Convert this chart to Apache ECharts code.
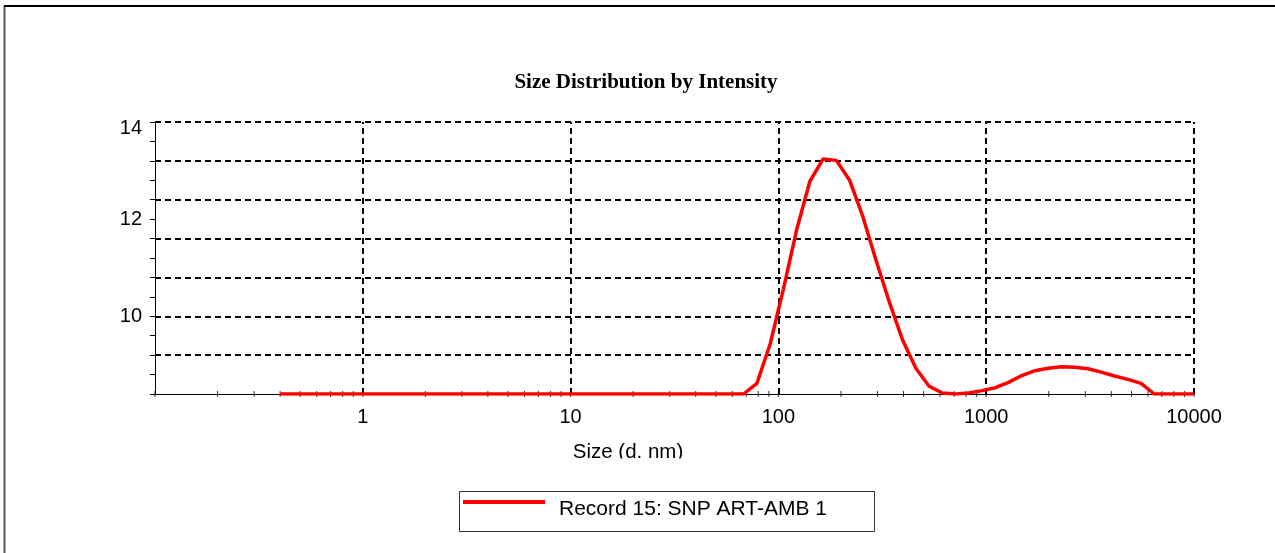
<!DOCTYPE html>
<html>
<head>
<meta charset="utf-8">
<script src="https://cdn.jsdelivr.net/npm/echarts@6/dist/echarts.min.js"></script>
<style>
html,body{margin:0;padding:0;background:#fff;}
#chart{width:1275px;height:553px;}
</style>
</head>
<body>
<div id="chart"></div>
<script>
// Size classes (d. nm)
const sizes = [0.4, 0.4632, 0.5365, 0.6213, 0.7195, 0.8332, 0.9649, 1.117, 1.294, 1.499,
  1.736, 2.01, 2.328, 2.696, 3.122, 3.615, 4.187, 4.849, 5.615, 6.503,
  7.531, 8.721, 10.1, 11.7, 13.54, 15.69, 18.17, 21.04, 24.36, 28.21,
  32.67, 37.84, 43.82, 50.75, 58.77, 68.06, 78.82, 91.28, 105.7, 122.4,
  141.8, 164.2, 190.1, 220.2, 255, 295.3, 342, 396.1, 458.7, 531.2,
  615.1, 712.4, 825, 955.4, 1106, 1281, 1484, 1718, 1990, 2305,
  2669, 3091, 3580, 4145, 4801, 5560, 6439, 7456, 8635, 10000];
// Intensity values as drawn (flat parts sit on the axis floor)
const intensity = [8.4, 8.4, 8.4, 8.4, 8.4, 8.4, 8.4, 8.4, 8.4, 8.4,
  8.4, 8.4, 8.4, 8.4, 8.4, 8.4, 8.4, 8.4, 8.4, 8.4,
  8.4, 8.4, 8.4, 8.4, 8.4, 8.4, 8.4, 8.4, 8.4, 8.4,
  8.4, 8.4, 8.4, 8.4, 8.4, 8.4, 8.62, 9.43, 10.56, 11.78,
  12.78, 13.24, 13.21, 12.80, 12.05, 11.15, 10.29, 9.51, 8.93, 8.56,
  8.42, 8.40, 8.42, 8.47, 8.53, 8.64, 8.78, 8.88, 8.93, 8.96,
  8.95, 8.92, 8.85, 8.77, 8.70, 8.62, 8.40, 8.40, 8.40, 8.40];
const seriesName = 'Record 15: SNP ART-AMB 1';
const titleText = 'Size Distribution by Intensity';
const xAxisName = 'Size (d. nm)';
const yLabels = [10, 12, 14];
const yGridValues = [9.2, 10, 10.8, 11.6, 12.4, 13.2, 14];
const xGridValues = [1, 10, 100, 1000, 10000];
const xMin = 0.1, xMax = 10000;
const yMin = 8.4, yMax = 14;

// minor log ticks on x axis (1..9 per decade)
const decades = [0.1, 1, 10, 100, 1000];
const multipliers = [1, 2, 3, 4, 5, 6, 7, 8, 9];
const xTickMarks = [];
decades.forEach(d => multipliers.forEach(m => xTickMarks.push([+(d * m).toPrecision(3), yMin])));
xTickMarks.push([10000, yMin]);

const FONT = "'Liberation Sans', Arial, sans-serif";
const gridLineStyle = { color: '#000', width: 2, type: [6, 4] };
const chart = echarts.init(document.getElementById('chart'));
chart.setOption({
  backgroundColor: '#fff',
  animation: false,
  grid: { left: 155, right: 81, top: 122, bottom: 159, containLabel: false },
  xAxis: {
    type: 'log', logBase: 10, min: xMin, max: xMax, z: 4,
    axisLine: { show: true, lineStyle: { color: '#000', width: 1 } },
    axisTick: { show: false },
    axisLabel: {
      margin: 13, color: '#000', fontFamily: FONT, fontSize: 20,
      formatter: v => (v < 0.5 ? '' : String(Math.round(v)))
    },
    splitLine: { show: false }
  },
  yAxis: {
    type: 'value', min: yMin, max: yMax, interval: 0.4, z: 4,
    axisLine: { show: true, lineStyle: { color: '#000', width: 1 } },
    axisTick: { show: true, length: 5, lineStyle: { color: '#000' } },
    axisLabel: {
      margin: 13, color: '#000', fontFamily: FONT, fontSize: 20,
      formatter: v => {
        const r = Math.round(v * 10) / 10;
        if (!yLabels.includes(r)) return '';
        return r === yMax ? '{top|' + r + '}' : String(r);
      },
      rich: { top: { fontFamily: FONT, fontSize: 20, color: '#000', padding: [12, 0, 0, 0] } }
    },
    splitLine: { show: false }
  },
  series: [{
    type: 'scatter', name: 'ticks', data: xTickMarks, symbol: 'rect', symbolSize: [1, 6],
    itemStyle: { color: '#000' }, silent: true, clip: false, z: 1,
    markLine: {
      silent: true, symbol: 'none', label: { show: false }, animation: false,
      lineStyle: gridLineStyle,
      emphasis: { disabled: true },
      data: yGridValues.map(v => ({ yAxis: v })).concat(xGridValues.map(v => ({ xAxis: v })))
    }
  }, {
    type: 'line', name: seriesName,
    data: sizes.map((s, i) => [s, intensity[i]]),
    showSymbol: false, symbol: 'none', smooth: false,
    lineStyle: { color: '#ff0000', width: 3.5 }, z: 5
  }],
  graphic: [
    { type: 'line', shape: { x1: 4.5, y1: 6, x2: 4.5, y2: 553 }, style: { stroke: '#555', lineWidth: 2 } },
    { type: 'line', shape: { x1: 4, y1: 6, x2: 1275, y2: 6 }, style: { stroke: '#000', lineWidth: 2 } },
    { type: 'text', x: 646, y: 82.5, style: { text: titleText, fill: '#000', font: "bold 21px 'Liberation Serif', 'Times New Roman', serif", textAlign: 'center', textVerticalAlign: 'middle' } },
    { type: 'text', x: 628, y: 452, z: 10, style: { text: xAxisName, fill: '#000', font: "20.5px " + FONT, textAlign: 'center', textVerticalAlign: 'middle' } },
    { type: 'rect', shape: { x: 540, y: 458.5, width: 180, height: 22 }, z: 11, style: { fill: '#fff' } },
    { type: 'rect', shape: { x: 459.5, y: 491.5, width: 415, height: 40 }, style: { fill: '#fff', stroke: '#333', lineWidth: 1 } },
    { type: 'line', shape: { x1: 463, y1: 502, x2: 545, y2: 502 }, style: { stroke: '#ff0000', lineWidth: 4 } },
    { type: 'text', x: 559, y: 509.5, style: { text: seriesName, fill: '#000', font: "21px " + FONT, textAlign: 'left', textVerticalAlign: 'middle' } }
  ]
});
</script>
</body>
</html>
